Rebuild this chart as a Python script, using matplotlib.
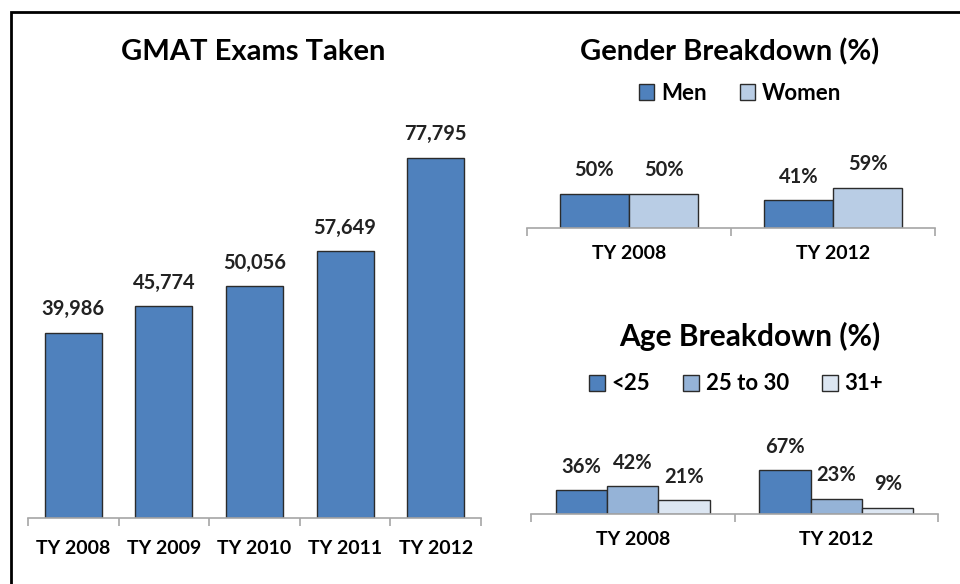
import numpy as np
import matplotlib
matplotlib.use("Agg")
import matplotlib.pyplot as plt
from matplotlib.patches import Rectangle

plt.rcParams['font.family'] = ['Lato', 'DejaVu Sans']

# data
years = ['TY 2008', 'TY 2009', 'TY 2010', 'TY 2011', 'TY 2012']
exams = [39986, 45774, 50056, 57649, 77795]

split_years = ['TY 2008', 'TY 2012']
gender_names = ['Men', 'Women']
men = [50, 41]
women = [50, 59]

age_names = ['<25', '25 to 30', '31+']
age_u25 = [36, 67]
age_25_30 = [42, 23]
age_31 = [21, 9]

W, H = 960, 584
fig = plt.figure(figsize=(W / 100, H / 100), dpi=100)

def box(x0, x1, ytop, ybase):
    return [x0 / W, 1 - ybase / H, (x1 - x0) / W, (ybase - ytop) / H]

edge = '#2b2b2b'
axis_gray = '#a6a6a6'

def style_axis(ax, n, pad):
    for s in ['top', 'right', 'left']:
        ax.spines[s].set_visible(False)
    ax.spines['bottom'].set_color(axis_gray)
    ax.spines['bottom'].set_linewidth(1.2)
    ax.set_yticks([])
    ax.set_xlim(-0.5, n - 0.5)
    ax.set_xticks(np.arange(n))
    ax.set_xticklabels(split_years if n == 2 else years, fontsize=14, fontweight='bold')
    ax.tick_params(axis='x', which='major', length=0, pad=pad)
    ax.set_xticks(np.arange(n + 1) - 0.5, minor=True)
    ax.tick_params(axis='x', which='minor', length=6, width=1.2, color=axis_gray)
    ax.patch.set_alpha(0)

def labels(ax, bars, fmt):
    for b in bars:
        v = b.get_height()
        ax.annotate(fmt(v), (b.get_x() + b.get_width() / 2, v), xytext=(0, 17),
                    textcoords='offset points', ha='center', va='center',
                    fontsize=14.5, fontweight='bold', color='#222222')

# left chart
ax1 = fig.add_axes(box(28, 481, 100, 518))
ax1.set_ylim(0, 77795 * 418 / 360)
b = ax1.bar(np.arange(len(years)), exams, width=0.63, color='#4f81bd', edgecolor=edge, linewidth=1)
labels(ax1, b, lambda v: f'{int(v):,}')
style_axis(ax1, len(years), 16)
fig.text(253 / W, 1 - 52 / H, 'GMAT Exams Taken', ha='center', va='center', fontsize=21, fontweight='bold')

# gender chart
x = np.arange(len(split_years))
ax2 = fig.add_axes(box(527, 935, 128, 228))
ax2.set_ylim(0, 100 / 0.68)
bm = ax2.bar(x - 0.17, men, width=0.34, color='#4f81bd', edgecolor=edge, linewidth=1, label='Men')
bw = ax2.bar(x + 0.17, women, width=0.34, color='#b9cde5', edgecolor=edge, linewidth=1, label='Women')
labels(ax2, bm, lambda v: f'{int(v)}%')
labels(ax2, bw, lambda v: f'{int(v)}%')
style_axis(ax2, 2, 12)
fig.text(730 / W, 1 - 52 / H, 'Gender Breakdown (%)', ha='center', va='center', fontsize=21, fontweight='bold')
fig.legend(handles=[bm, bw], loc='center', bbox_to_anchor=(740 / W, 1 - 93 / H), ncol=2, frameon=False,
           prop={'weight': 'bold', 'size': 16}, handlelength=0.7, handleheight=0.7,
           handletextpad=0.3, columnspacing=1.5)

# age chart
ax3 = fig.add_axes(box(531, 938, 414, 514))
ax3.set_ylim(0, 100 / 0.655)
w = 0.253
ba = ax3.bar(x - w, age_u25, width=w, color='#4f81bd', edgecolor=edge, linewidth=1, label=age_names[0])
bb = ax3.bar(x, age_25_30, width=w, color='#95b3d7', edgecolor=edge, linewidth=1, label=age_names[1])
bc = ax3.bar(x + w, age_31, width=w, color='#dce6f2', edgecolor=edge, linewidth=1, label=age_names[2])
for bars in [ba, bb, bc]:
    labels(ax3, bars, lambda v: f'{int(v)}%')
style_axis(ax3, 2, 12)
fig.text(750 / W, 1 - 336 / H, 'Age Breakdown (%)', ha='center', va='center', fontsize=21.5, fontweight='bold')
fig.legend(handles=[ba, bb, bc], loc='center', bbox_to_anchor=(736 / W, 1 - 384 / H), ncol=3, frameon=False,
           prop={'weight': 'bold', 'size': 16}, handlelength=0.7, handleheight=0.7,
           handletextpad=0.3, columnspacing=1.5)

# outer border
fig.patches.append(Rectangle((11 / W, -0.1), 1.2, 1 - 12 / H + 0.1, transform=fig.transFigure,
                             fill=False, edgecolor='black', linewidth=2))

fig.savefig('out.png', dpi=100)
